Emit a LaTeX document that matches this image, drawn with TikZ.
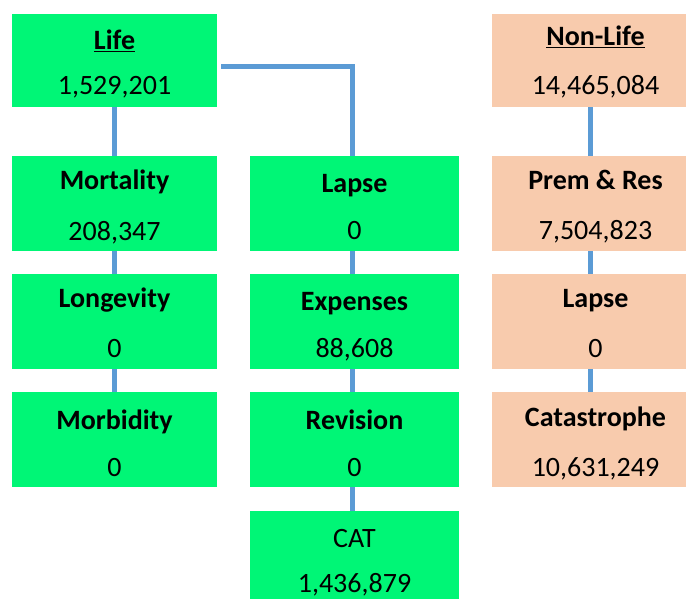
\documentclass[tikz,border=0pt]{standalone}
\usepackage{fontspec}
\setmainfont{Carlito}
\definecolor{lifegreen}{RGB}{0,246,118}
\definecolor{nonlifepeach}{RGB}{248,203,173}
\definecolor{linkblue}{RGB}{91,155,213}
\newcommand{\boxfont}{\fontsize{28}{34}\selectfont}

\begin{document}
\begin{tikzpicture}[x=1pt, y=-1pt,
    lifebox/.style={rectangle, fill=lifegreen, minimum width=205pt, minimum height=95pt, inner sep=0pt},
    midbox/.style={lifebox, minimum width=209pt},
    nonlifebox/.style={rectangle, fill=nonlifepeach, minimum width=207pt, minimum height=95pt, inner sep=0pt},
    title/.style={anchor=base, font=\boxfont\bfseries},
    value/.style={anchor=base, font=\boxfont},
    link/.style={draw=linkblue, line width=5pt}
]
    \useasboundingbox (0,0) rectangle (686,599);
    \clip (0,0) rectangle (686,599);

    % life column
    \node[lifebox, minimum height=93pt] (life) at (114.5,60.5) {};
    \node[lifebox] (mort) at (114.5,203.5) {};
    \node[lifebox] (long) at (114.5,321.5) {};
    \node[lifebox] (morb) at (114.5,439.5) {};

    % middle column
    \node[midbox] (lapse) at (354.5,203.5) {};
    \node[midbox] (exp) at (354.5,321.5) {};
    \node[midbox] (rev) at (354.5,439.5) {};
    \node[midbox] (cat) at (354.5,558.5) {};

    % non-life column
    \node[nonlifebox, minimum height=93pt] (nonlife) at (595.5,60.5) {};
    \node[nonlifebox] (prem) at (595.5,203.5) {};
    \node[nonlifebox] (nlapse) at (595.5,321.5) {};
    \node[nonlifebox] (ncat) at (595.5,439.5) {};

    % texts
    \node[title] (lifeT) at ([yshift=-36pt]life.north) {\underline{Life}};
    \node[value] (lifeV) at ([yshift=-81pt]life.north) {1,529,201};
    \node[title] (mortT) at ([yshift=-34pt]mort.north) {Mortality};
    \node[value] (mortV) at ([yshift=-85pt]mort.north) {208,347};
    \node[title] (longT) at ([yshift=-34pt]long.north) {Longevity};
    \node[value] (longV) at ([yshift=-84pt]long.north) {0};
    \node[title] (morbT) at ([yshift=-38pt]morb.north) {Morbidity};
    \node[value] (morbV) at ([yshift=-85pt]morb.north) {0};

    \node[title] (lapseT) at ([yshift=-37pt]lapse.north) {Lapse};
    \node[value] (lapseV) at ([yshift=-84pt]lapse.north) {0};
    \node[title] (expT) at ([yshift=-37pt]exp.north) {Expenses};
    \node[value] (expV) at ([yshift=-84pt]exp.north) {88,608};
    \node[title] (revT) at ([yshift=-38pt]rev.north) {Revision};
    \node[value] (revV) at ([yshift=-85pt]rev.north) {0};
    \node[value] (catT) at ([yshift=-37pt]cat.north) {CAT};
    \node[value] (catV) at ([yshift=-82pt]cat.north) {1,436,879};

    \node[title] (nonlifeT) at ([yshift=-32pt]nonlife.north) {\underline{Non-Life}};
    \node[value] (nonlifeV) at ([yshift=-81pt]nonlife.north) {14,465,084};
    \node[title] (premT) at ([yshift=-34pt]prem.north) {Prem \& Res};
    \node[value] (premV) at ([yshift=-84pt]prem.north) {7,504,823};
    \node[title] (nlapseT) at ([yshift=-34pt]nlapse.north) {Lapse};
    \node[value] (nlapseV) at ([yshift=-84pt]nlapse.north) {0};
    \node[title] (ncatT) at ([yshift=-35pt]ncat.north) {Catastrophe};
    \node[value] (ncatV) at ([yshift=-85pt]ncat.north) {10,631,249};

    % connectors
    \draw[link] (life) -- (mort);
    \draw[link] (mort) -- (long);
    \draw[link] (long) -- (morb);
    \draw[link] ([xshift=4pt,yshift=-6.5pt]life.east) -| ([xshift=-2.5pt]lapse.north);
    \draw[link] ([xshift=-2.5pt]lapse.south) -- ([xshift=-2.5pt]exp.north);
    \draw[link] ([xshift=-2.5pt]exp.south) -- ([xshift=-2.5pt]rev.north);
    \draw[link] ([xshift=-2.5pt]rev.south) -- ([xshift=-2.5pt]cat.north);
    \draw[link] ([xshift=-5.5pt]nonlife.south) -- ([xshift=-5.5pt]prem.north);
    \draw[link] ([xshift=-5.5pt]prem.south) -- ([xshift=-5.5pt]nlapse.north);
    \draw[link] ([xshift=-5.5pt]nlapse.south) -- ([xshift=-5.5pt]ncat.north);
\end{tikzpicture}
\end{document}
